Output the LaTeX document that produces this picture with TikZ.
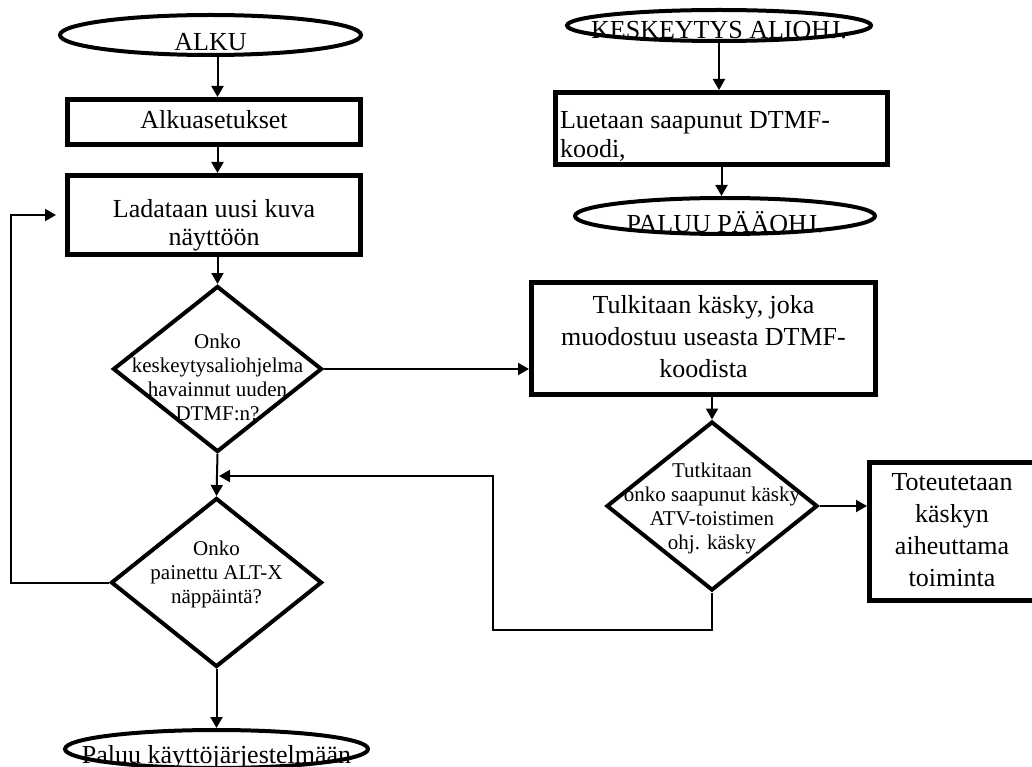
\documentclass[tikz,border=0pt]{standalone}
\usepackage{fontspec}
\setmainfont{Liberation Serif}
\usetikzlibrary{shapes.geometric,arrows.meta}
\newcommand\bigf{\fontsize{26}{32}\selectfont}
\newcommand\smallf{\fontsize{21}{24}\selectfont}
\newcommand\ctx[2]{\makebox[0pt]{\raisebox{#1}[0pt][0pt]{\begin{tabular}{@{}c@{}}#2\end{tabular}}}}
\begin{document}
\begin{tikzpicture}[x=1pt,y=-1pt,
  stepbox/.style={draw, rectangle, line width=5pt, inner sep=0pt, font=\bigf},
  decision/.style={draw, diamond, line width=4pt, inner sep=0pt, minimum width=211pt, minimum height=169pt, font=\smallf},
  term/.style={draw, ellipse, line width=4pt, inner sep=0pt, font=\bigf},
  conn/.style={line width=2pt, -{Triangle[length=11pt,width=12pt]}}]
\useasboundingbox (0,0) rectangle (1032,767);
\fill[white] (0,0) rectangle (1032,767);
\clip (0,0) rectangle (1032,767);

% left column
\node[term, minimum width=301pt, minimum height=40pt] (alku) at (210.5,35) {\ctx{-15pt}{ALKU}};
\node[stepbox, minimum width=293pt, minimum height=45pt] (alkuas) at (214,122) {\ctx{-6pt}{Alkuasetukset}};
\node[stepbox, minimum width=293pt, minimum height=79pt] (ladataan) at (214,215) {\ctx{-16pt}{Ladataan uusi kuva\\[-4pt]näyttöön}};
\node[decision, minimum height=166pt, minimum width=209pt] (d1) at (217.5,369) {\ctx{-15.5pt}{Onko\\keskeytysaliohjelma\\havainnut uuden\\DTMF:n?}};
\node[decision] (d2) at (216.5,582.5) {\ctx{2.5pt}{Onko\\painettu ALT-X\\näppäintä?}};
\node[term, minimum width=303pt, minimum height=38pt] (paluu) at (216.5,749) {\ctx{-14pt}{Paluu käyttöjärjestelmään}};

% right part
\node[stepbox, minimum width=344pt, minimum height=112pt] (tulk) at (703.5,338.5) {\ctx{-6.5pt}{Tulkitaan käsky, joka\\muodostuu useasta DTMF-\\koodista}};
\node[decision] (d3) at (712,506) {\ctx{-7.5pt}{Tutkitaan\\onko saapunut käsky\\ATV-toistimen\\ohj. käsky}};
\node[stepbox, minimum width=165pt, minimum height=138pt] (tot) at (952,531.5) {\ctx{-7pt}{Toteutetaan\\käskyn\\aiheuttama\\toiminta}};

% interrupt routine
\node[term, minimum width=304pt, minimum height=31pt] (kesk) at (719,25.5) {\ctx{-12.5pt}{KESKEYTYS ALIOHJ.}};
\node[stepbox, minimum width=332pt, minimum height=72pt] (luet) at (721.5,128.5) {\makebox[0pt][l]{\hspace*{-161.5pt}\raisebox{-14pt}[0pt][0pt]{\begin{tabular}{@{}l@{}}Luetaan saapunut DTMF-\\[-3pt]koodi,\end{tabular}}}};
\node[term, minimum width=300pt, minimum height=36pt] (paluu2) at (725,216) {\ctx{-16pt}{PALUU PÄÄOHJ.}};

% helper coordinates
\coordinate (lb) at (11,582.5);
\coordinate (rb) at (493,630);
\coordinate (jn) at (219,476);

% connectors
\draw[conn] (alku.south -| d1) -- (alkuas.north -| d1);
\draw[conn] (alkuas.south -| d1) -- (ladataan.north -| d1);
\draw[conn] (ladataan.south -| d1) -- (d1.north);
\draw[conn] (d1.south) -- (d2.north);
\draw[conn] (d1.east) -- (d1.east -| tulk.west);
\draw[conn] (tulk.south -| d3) -- (d3.north);
\draw[conn] (d3.east) -- (d3.east -| tot.west);
\draw[conn] (d3.south) |- (rb) |- (jn);
\draw[conn, shorten >=9pt] (d2.west) -- (lb) |- (ladataan.west);
\draw[conn] (d2.south) -- (d2.south |- paluu.north);
\draw[conn] (kesk.south) -- (kesk.south |- luet.north);
\draw[conn] (luet.south) -- (luet.south |- paluu2.north);
\end{tikzpicture}
\end{document}
